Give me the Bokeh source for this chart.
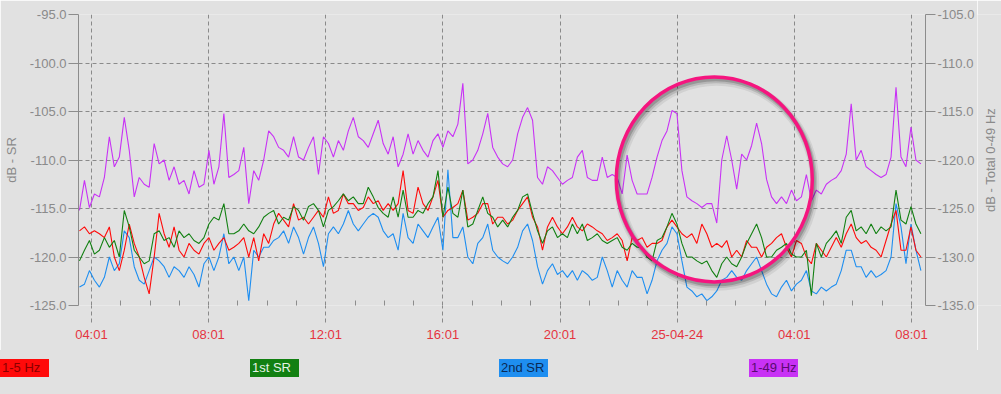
import math
from bokeh.plotting import figure
from bokeh.models import Range1d, LinearAxis, FixedTicker, NumeralTickFormatter, Div
from bokeh.layouts import column, row
from bokeh.embed import file_html
from bokeh.resources import INLINE
from bokeh.core.properties import value

# ---------------- data ----------------
START_MIN = 216.5          # minutes after 24-04-24 00:00 of first sample
STEP_MIN = 10.2            # sampling step, minutes
TICK_MINUTES = [241, 481, 721, 961, 1201, 1441, 1681, 1921]
TICK_LABELS = ["04:01", "08:01", "12:01", "16:01", "20:01", "25-04-24", "04:01", "08:01"]
LEFT_TICKS = [-125, -120, -115, -110, -105, -100, -95]
RIGHT_TICKS = [-135, -130, -125, -120, -115, -110, -105]
LEFT_TITLE = "dB - SR"
RIGHT_TITLE = "dB - Total 0-49 Hz"

SERIES_NAMES = ["1-5 Hz", "1st SR", "2nd SR", "1-49 Hz"]

hz_1_5 = [
    -117.3, -116.9, -117.6, -117.3, -117.6, -118.0, -116.9, -120.0, -121.4, -119.3, -116.6, -118.6, -120.0, -122.1,
    -123.8, -120.0, -115.5, -117.6, -119.0, -116.9, -119.3, -120.0, -118.6, -119.3, -119.7, -118.6, -118.0, -119.3,
    -118.6, -118.0, -119.3, -119.0, -118.6, -118.0, -120.0, -118.0, -120.4, -117.6, -118.6, -116.6, -115.5, -116.2,
    -116.9, -114.5, -116.2, -115.9, -116.6, -115.9, -115.2, -115.9, -113.8, -115.5, -115.2, -113.5, -114.5, -114.5, -115.2,
    -114.9, -113.8, -114.5, -114.2, -115.2, -114.5, -115.2, -114.5, -111.1, -115.2, -115.5, -112.8, -114.5, -115.2,
    -113.8, -112.1, -115.9, -115.2, -114.9, -114.5, -113.1, -116.2, -115.9, -115.5, -114.5, -114.5, -116.6, -115.9,
    -115.9, -116.6, -116.2, -115.2, -114.5, -113.8, -115.9, -116.9, -119.3, -116.9, -115.9, -116.9, -117.6, -116.9,
    -115.9, -116.9, -117.3, -116.6, -116.9, -117.3, -117.6, -118.3, -118.0, -117.6, -118.3, -120.4, -118.0, -118.3,
    -118.0, -119.0, -118.6, -118.6, -118.3, -116.9, -116.2, -116.9, -117.6, -118.0, -117.6, -118.6, -116.6, -117.6,
    -119.0, -118.6, -119.0, -118.3, -120.0, -119.3, -120.0, -118.3, -119.0, -119.0, -120.0, -119.0, -118.6, -118.0,
    -117.6, -119.0, -120.0, -118.3, -118.6, -120.0, -120.7, -118.6, -119.3, -120.0, -119.0, -118.0, -119.0, -117.6,
    -116.6, -118.0, -118.6, -118.3, -119.0, -119.3, -120.0, -118.3, -116.6, -115.2, -119.3, -119.3, -116.9, -119.3, -120.0,
]

sr_1st = [
    -120.4, -119.3, -118.3, -119.7, -119.3, -118.0, -119.0, -118.3, -120.0, -115.2, -116.9, -119.3, -120.0, -120.7,
    -120.4, -117.6, -117.3, -118.3, -118.0, -119.0, -117.3, -118.0, -117.6, -118.3, -118.6, -118.0, -116.6, -115.9,
    -116.2, -114.5, -117.6, -117.6, -117.3, -116.6, -117.3, -117.6, -116.9, -115.9, -115.5, -115.2, -116.6, -115.9,
    -116.2, -114.8, -115.2, -116.2, -114.8, -114.5, -115.2, -116.9, -115.2, -114.8, -114.2, -113.5, -114.2, -113.8, -114.5,
    -114.5, -112.8, -113.8, -114.9, -115.5, -115.9, -113.8, -115.9, -113.1, -115.9, -115.9, -115.2, -115.5, -114.5,
    -113.8, -111.1, -115.9, -112.8, -115.5, -115.9, -113.1, -116.9, -116.6, -115.2, -113.8, -115.5, -115.9, -116.9,
    -116.2, -116.9, -115.9, -115.2, -113.8, -113.5, -115.5, -117.3, -118.6, -117.3, -116.9, -118.0, -117.6, -118.0,
    -116.6, -117.6, -116.6, -118.3, -118.0, -117.6, -118.3, -118.6, -118.3, -118.0, -119.0, -119.3, -118.6, -119.0,
    -119.0, -120.0, -120.4, -118.3, -118.0, -116.9, -115.5, -116.6, -118.6, -120.0, -120.0, -120.4, -120.7, -120.4,
    -121.4, -122.1, -120.7, -120.0, -120.7, -121.0, -120.0, -118.6, -117.6, -116.6, -118.0, -120.0, -120.0, -119.3,
    -119.0, -118.6, -119.7, -120.0, -120.0, -119.3, -124.0, -118.6, -120.0, -118.6, -118.0, -117.3, -118.6, -115.9,
    -115.2, -117.3, -116.9, -117.6, -116.6, -117.6, -116.9, -117.3, -116.9, -113.1, -116.2, -116.6, -114.8, -116.6, -117.6,
]

sr_2nd = [
    -123.1, -122.8, -121.4, -122.4, -123.1, -122.1, -120.0, -121.4, -120.7, -117.3, -118.0, -121.0, -122.4, -122.8,
    -121.4, -120.0, -120.4, -121.0, -122.1, -121.0, -121.4, -122.1, -121.0, -121.8, -123.1, -120.7, -120.0, -121.4,
    -120.0, -117.6, -120.7, -120.0, -121.4, -120.0, -124.5, -119.3, -120.0, -119.0, -119.0, -118.3, -118.0, -117.3,
    -118.6, -116.9, -118.0, -119.7, -118.0, -116.9, -118.6, -121.0, -117.6, -116.9, -117.6, -116.6, -115.2, -116.6, -117.3,
    -116.6, -115.9, -115.5, -115.9, -117.3, -118.0, -117.6, -119.3, -115.5, -118.0, -118.6, -116.6, -117.3, -118.0,
    -116.9, -115.9, -119.3, -111.0, -118.0, -118.0, -116.9, -120.0, -120.7, -118.6, -118.0, -116.6, -119.3, -120.0,
    -120.4, -120.7, -120.0, -119.0, -117.3, -116.6, -118.3, -121.0, -122.8, -121.4, -120.7, -121.8, -121.4, -122.1,
    -121.4, -122.4, -121.4, -121.8, -122.4, -122.1, -120.0, -121.4, -123.1, -121.4, -122.4, -123.1, -121.4, -122.1,
    -122.1, -123.8, -122.4, -120.4, -119.3, -118.6, -116.9, -117.6, -120.4, -123.1, -123.5, -124.1, -123.8, -124.5,
    -124.1, -123.5, -122.4, -122.1, -121.4, -122.1, -122.4, -121.4, -120.7, -120.0, -121.4, -122.8, -123.8, -124.1,
    -123.1, -122.4, -123.5, -122.8, -122.4, -121.4, -123.5, -123.8, -123.1, -123.5, -123.1, -122.8, -121.4, -119.3,
    -119.3, -121.0, -121.0, -122.1, -121.4, -122.1, -121.8, -121.4, -120.0, -114.5, -116.9, -120.7, -116.6, -119.3, -121.4,
]

# 1-49 Hz, on the right axis (dB - Total 0-49 Hz)
hz_1_49 = [
    -125.2, -122.1, -124.9, -123.5, -123.8, -121.8, -117.6, -120.7, -119.7, -115.6, -119.0, -123.8, -121.8, -122.5,
    -122.8, -118.3, -120.4, -120.0, -122.1, -120.7, -122.5, -122.1, -123.5, -121.1, -122.8, -122.5, -119.0, -122.5,
    -120.7, -115.2, -121.8, -121.5, -121.1, -118.7, -124.5, -121.1, -122.1, -120.0, -117.0, -117.6, -118.7, -119.0,
    -119.7, -117.6, -119.7, -120.0, -118.7, -117.6, -121.5, -117.6, -118.3, -119.7, -118.0, -119.0, -117.0, -115.6, -117.6,
    -118.0, -118.7, -117.3, -115.9, -118.3, -119.4, -117.6, -120.7, -119.4, -117.3, -119.4, -118.0, -119.0, -119.7,
    -118.0, -117.3, -118.7, -117.0, -117.6, -116.3, -112.1, -120.4, -120.0, -119.0, -117.3, -115.2, -118.7, -119.7,
    -120.4, -120.7, -120.0, -117.3, -115.6, -114.6, -115.9, -121.8, -122.5, -120.7, -121.1, -121.8, -122.5, -122.1,
    -121.8, -119.7, -119.0, -121.8, -122.1, -122.1, -119.7, -121.8, -121.5, -121.8, -123.5, -119.5, -122.1, -123.5,
    -123.5, -123.5, -121.8, -119.7, -118.0, -117.0, -114.9, -115.2, -121.1, -123.8, -124.2, -124.5, -124.9, -124.5,
    -124.5, -126.5, -120.0, -117.5, -120.0, -123.0, -119.4, -120.0, -118.5, -116.2, -118.3, -122.0, -123.8, -124.5,
    -123.8, -124.5, -123.1, -124.2, -123.8, -121.5, -124.2, -123.1, -123.5, -122.5, -122.1, -121.8, -121.1, -119.4,
    -114.2, -120.0, -119.0, -120.7, -121.1, -121.5, -121.8, -121.5, -119.7, -112.5, -119.7, -120.7, -116.6, -120.0, -120.4,
]

SERIES_VALUES = [hz_1_5, sr_1st, sr_2nd, hz_1_49]
SERIES_COLORS = ["#ff0a0a", "#128012", "#1e8ef0", "#c832f5"]
SERIES_AXIS = ["default", "default", "default", "right"]
LEGEND_TEXT_COLORS = ["#8a0000", "#e6f2e6", "#0a2a55", "#5a0a70"]

for s in SERIES_VALUES:
    assert len(s) == len(hz_1_5), len(s)
N = len(hz_1_5)
times = [START_MIN + i * STEP_MIN for i in range(N)]

# highlighted region (pink ring) centre
RING_X = 1517.0
RING_Y = -112.0

# ---------------- style ----------------
BG = "#e1e1e1"
GRID = "#8a8a8a"
AXIS = "#8c8c8c"
LABEL = "#8a8a8a"
XLABEL = "#e5343f"
FONT = "Liberation Sans"

W = 1001
W_SIDE = 24                # strip holding the right-hand axis title
W_MAIN = W - W_SIDE
H_MAIN = 350
H_LEG = 44
FRAME_L, FRAME_T, FRAME_B = 75, 14, 45
FRAME_R = W_MAIN - 925

p = figure(width=W_MAIN, height=H_MAIN, output_backend="svg", toolbar_location=None,
           x_range=Range1d(214.5, 1949.7), y_range=Range1d(-125, -95),
           background_fill_color=BG, border_fill_color=BG, outline_line_color=None,
           min_border_left=FRAME_L, min_border_right=FRAME_R,
           min_border_top=FRAME_T, min_border_bottom=FRAME_B, margin=0)
p.extra_y_ranges = {"right": Range1d(-135, -105)}

minor = [m for m in range(TICK_MINUTES[0], TICK_MINUTES[-1] + 1, 60) if m not in TICK_MINUTES]
p.xaxis.ticker = FixedTicker(ticks=TICK_MINUTES, minor_ticks=minor)
p.xaxis.major_label_overrides = {t: l for t, l in zip(TICK_MINUTES, TICK_LABELS)}
p.xaxis.axis_line_color = None
p.xaxis.major_tick_in = 0
p.xaxis.major_tick_out = 17
p.xaxis.major_tick_line_color = GRID
p.xaxis.major_tick_line_dash = "4 3"
p.xaxis.minor_tick_in = 5
p.xaxis.minor_tick_out = 0
p.xaxis.minor_tick_line_color = AXIS
p.xaxis.major_label_standoff = 4
p.xaxis.major_label_text_color = XLABEL
p.xaxis.major_label_text_font = FONT
p.xaxis.major_label_text_font_size = "13px"

p.yaxis.ticker = FixedTicker(ticks=LEFT_TICKS)
p.yaxis.formatter = NumeralTickFormatter(format="0.0")
p.yaxis.axis_label = LEFT_TITLE

right = LinearAxis(y_range_name="right", ticker=FixedTicker(ticks=RIGHT_TICKS),
                   formatter=NumeralTickFormatter(format="0.0"))
p.add_layout(right, "right")

for ax in [p.yaxis[0], right]:
    ax.axis_line_color = AXIS
    ax.major_tick_line_color = AXIS
    ax.major_tick_in = 0
    ax.major_tick_out = 10
    ax.minor_tick_in = 0
    ax.minor_tick_out = 0
    ax.major_label_standoff = 2
    ax.major_label_text_color = LABEL
    ax.major_label_text_font = FONT
    ax.major_label_text_font_size = "13px"
    ax.axis_label_text_color = LABEL
    ax.axis_label_text_font = FONT
    ax.axis_label_text_font_size = "13px"
    ax.axis_label_text_font_style = "normal"
    ax.axis_label_standoff = 8

p.xgrid.ticker = FixedTicker(ticks=TICK_MINUTES)
p.ygrid.ticker = FixedTicker(ticks=LEFT_TICKS)
p.grid.grid_line_color = GRID
p.grid.grid_line_dash = "4 3"
p.grid.grid_line_width = 1

for idx in [2, 0, 1, 3]:
    kw = {} if SERIES_AXIS[idx] == "default" else {"y_range_name": "right"}
    p.line(times, SERIES_VALUES[idx], line_color=SERIES_COLORS[idx], line_width=1.1, **kw)

# ring with soft shadow
for dx, dy, lw, a in [(5, -0.45, 9, 0.07), (4, -0.35, 6, 0.12), (3, -0.25, 4, 0.18)]:
    p.ellipse(x=[RING_X + dx], y=[RING_Y + dy], width=196, height=205,
              width_units="screen", height_units="screen",
              fill_alpha=0, line_color="black", line_alpha=a, line_width=lw)
p.ellipse(x=[RING_X], y=[RING_Y], width=196, height=205,
          width_units="screen", height_units="screen",
          fill_alpha=0, line_color="#f5157f", line_width=3.5)

# ---------------- right-hand axis title (reads upwards) ----------------
side = figure(width=W_SIDE, height=H_MAIN, output_backend="svg", toolbar_location=None,
              x_range=Range1d(0, W_SIDE), y_range=Range1d(0, 1),
              x_axis_type=None, y_axis_type=None,
              min_border_left=0, min_border_right=0,
              min_border_top=FRAME_T, min_border_bottom=FRAME_B, margin=0,
              background_fill_color=BG, border_fill_color=BG, outline_line_color=None)
side.grid.visible = False
side.text(x=[990 - W_MAIN], y=[0.5], text=[RIGHT_TITLE], angle=math.pi / 2,
          text_align="center", text_baseline="middle", text_color=LABEL,
          text_font=value(FONT), text_font_size="13px")

# ---------------- legend strip ----------------
spans = []
for i, (name, col, tcol) in enumerate(zip(SERIES_NAMES, SERIES_COLORS, LEGEND_TEXT_COLORS)):
    left = round(i * 249.7)
    spans.append(
        f'<span style="position:absolute;left:{left}px;top:9px;width:49px;height:18px;'
        f'padding-left:2px;line-height:17px;background:{col};color:{tcol};'
        f'white-space:nowrap;">{name}</span>'
    )
html = (f'<div style="position:relative;width:{W}px;height:{H_LEG}px;background:{BG};'
        f'font-family:\'{FONT}\';font-size:13px;">' + "".join(spans) + '</div>')
leg = Div(text=html, width=W, height=H_LEG, margin=0,
          styles={"background-color": BG})

layout = column(row(p, side, spacing=0, margin=0), leg, spacing=0, margin=0)
open("out.html", "w").write(file_html(layout, INLINE))
